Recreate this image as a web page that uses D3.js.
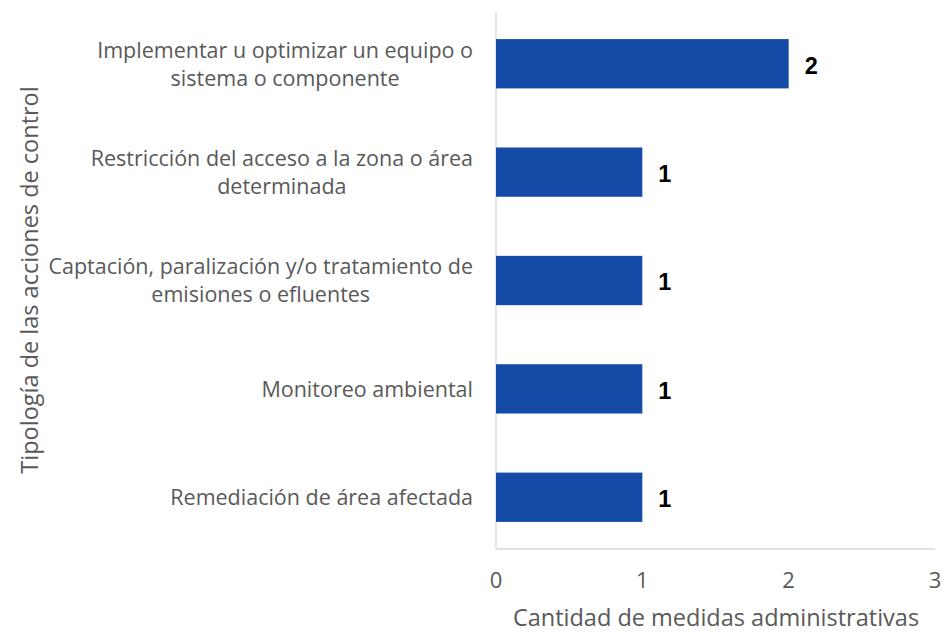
<!DOCTYPE html>
<html>
<head>
<meta charset="utf-8">
<script src="https://cdn.jsdelivr.net/npm/d3@7"></script>
<style>
  body { margin: 0; background: #fff; }
  text { font-family: "Open Sans", "Noto Sans", sans-serif; }
</style>
</head>
<body>
<div id="chart"></div>
<script>
// categories, top to bottom, split into display lines
var categories = [
    ["Implementar u optimizar un equipo o", "sistema o componente"],
    ["Restricción del acceso a la zona o área", "determinada"],
    ["Captación, paralización y/o tratamiento de", "emisiones o efluentes"],
    ["Monitoreo ambiental"],
    ["Remediación de área afectada"]
];
var values = [2, 1, 1, 1, 1];
var xTicks = [0, 1, 2, 3];
var xTitle = "Cantidad de medidas administrativas";
var yTitle = "Tipología de las acciones de control";

var width = 942, height = 632;
var margin = { top: 12, right: 6, bottom: 83, left: 496 };
var plotH = height - margin.top - margin.bottom;

var svg = d3.select("#chart")
    .append("svg")
    .attr("width", width)
    .attr("height", height);

var g = svg.append("g")
    .attr("transform", "translate(" + margin.left + "," + margin.top + ")");

var x = d3.scaleLinear()
    .domain([0, 3])
    .range([0, 439]);

var y = d3.scaleBand()
    .domain(d3.range(categories.length))
    .range([0, plotH])
    .paddingInner(0.545)
    .paddingOuter(0.25);

// axis lines
g.append("line")
    .attr("x1", 0).attr("x2", 0)
    .attr("y1", 0).attr("y2", plotH)
    .attr("stroke", "#d9d9d9")
    .attr("stroke-width", 1.3);
g.append("line")
    .attr("x1", 0).attr("x2", x(3))
    .attr("y1", plotH).attr("y2", plotH)
    .attr("stroke", "#d9d9d9")
    .attr("stroke-width", 1.3);

// bars
g.selectAll(".bar")
    .data(values)
    .enter()
    .append("rect")
    .attr("class", "bar")
    .attr("x", 0)
    .attr("y", function (d, i) { return y(i); })
    .attr("width", function (d) { return x(d); })
    .attr("height", y.bandwidth())
    .attr("fill", "#154ba6");

// value labels
g.selectAll(".val")
    .data(values)
    .enter()
    .append("text")
    .attr("class", "val")
    .attr("x", function (d) { return x(d) + 16; })
    .attr("y", function (d, i) { return y(i) + y.bandwidth() / 2; })
    .attr("dy", "0.42em")
    .style("font-family", "'Liberation Sans', Arial, sans-serif")
    .style("font-weight", "bold")
    .style("font-size", "23.5px")
    .attr("fill", "#000")
    .text(function (d) { return d; });

// x tick labels
g.selectAll(".xt")
    .data(xTicks)
    .enter()
    .append("text")
    .attr("class", "xt")
    .attr("x", function (d) { return x(d); })
    .attr("y", plotH + 39)
    .attr("text-anchor", "middle")
    .style("font-size", "22px")
    .attr("fill", "#595959")
    .text(function (d) { return d; });

// category labels (multi-line centred, block right aligned)
var lineH = 28;
categories.forEach(function (lines, i) {
    var t = g.append("text")
        .style("font-size", "21.5px")
        .attr("fill", "#595959")
        .attr("text-anchor", "middle");
    var cy = y(i) + y.bandwidth() / 2;
    var y0 = cy - (lines.length - 1) * lineH / 2;
    lines.forEach(function (s, j) {
        t.append("tspan")
            .attr("x", 0)
            .attr("y", y0 + j * lineH)
            .attr("dy", "0.37em")
            .text(s);
    });
    var maxW = d3.max(t.selectAll("tspan").nodes(), function (n) {
        return n.getComputedTextLength();
    });
    t.selectAll("tspan").attr("x", -23 - maxW / 2);
});

// axis titles
svg.append("text")
    .attr("x", 716)
    .attr("y", 626)
    .attr("text-anchor", "middle")
    .style("font-size", "23.5px")
    .attr("fill", "#595959")
    .text(xTitle);

svg.append("text")
    .attr("transform", "translate(38,280) rotate(-90)")
    .attr("text-anchor", "middle")
    .style("font-size", "23.5px")
    .attr("fill", "#595959")
    .text(yTitle);
</script>
</body>
</html>
